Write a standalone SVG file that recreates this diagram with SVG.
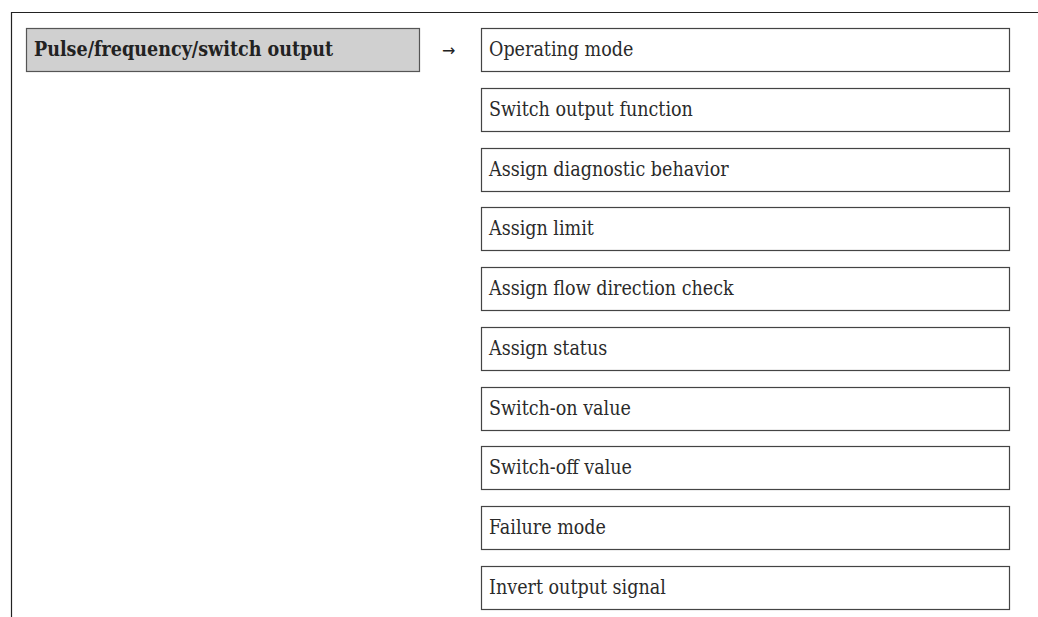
<svg xmlns="http://www.w3.org/2000/svg" width="1038" height="617" viewBox="0 0 1038 617">
<style>
.frame{stroke:#222;stroke-width:1.2;fill:none}
.box{fill:#fff;stroke:#444;stroke-width:1.2}
.head{fill:#d0d0d0;stroke:#555;stroke-width:1.2}
.t{font-family:"DejaVu Serif Condensed","DejaVu Serif","Liberation Serif",serif;font-stretch:condensed;font-size:19.5px;fill:#2a2a2a}
.tb{font-family:"DejaVu Serif Condensed","DejaVu Serif","Liberation Serif",serif;font-stretch:condensed;font-size:19.5px;font-weight:bold;fill:#222}
.arr{font-family:"DejaVu Sans","Liberation Sans",sans-serif;font-size:16px;fill:#222}
</style>
<rect width="1038" height="617" fill="#fff"/>
<g id="frame">
<path class="frame" d="M11.5 617 V12.5 H1038"/>
</g>
<g id="node-head">
<rect class="head" x="26.5" y="28.5" width="393" height="43"/>
<text class="tb" x="34" y="56">Pulse/frequency/switch output</text>
</g>
<g id="connectors">
<text class="arr" x="442" y="55.5">→</text>
</g>
<g id="n1"><rect class="box" x="481.5" y="28.5" width="528" height="43"/><text class="t" x="489" y="56">Operating mode</text></g>
<g id="n2"><rect class="box" x="481.5" y="88.5" width="528" height="43"/><text class="t" x="489" y="116">Switch output function</text></g>
<g id="n3"><rect class="box" x="481.5" y="148.5" width="528" height="43"/><text class="t" x="489" y="176">Assign diagnostic behavior</text></g>
<g id="n4"><rect class="box" x="481.5" y="207.5" width="528" height="43"/><text class="t" x="489" y="235">Assign limit</text></g>
<g id="n5"><rect class="box" x="481.5" y="267.5" width="528" height="43"/><text class="t" x="489" y="295">Assign flow direction check</text></g>
<g id="n6"><rect class="box" x="481.5" y="327.5" width="528" height="43"/><text class="t" x="489" y="355">Assign status</text></g>
<g id="n7"><rect class="box" x="481.5" y="387.5" width="528" height="43"/><text class="t" x="489" y="415">Switch-on value</text></g>
<g id="n8"><rect class="box" x="481.5" y="446.5" width="528" height="43"/><text class="t" x="489" y="474">Switch-off value</text></g>
<g id="n9"><rect class="box" x="481.5" y="506.5" width="528" height="43"/><text class="t" x="489" y="534">Failure mode</text></g>
<g id="n10"><rect class="box" x="481.5" y="566.5" width="528" height="43"/><text class="t" x="489" y="594">Invert output signal</text></g>
</svg>
